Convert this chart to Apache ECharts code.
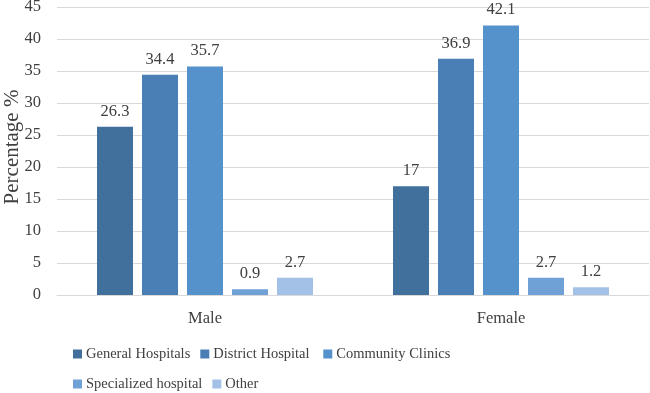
<!DOCTYPE html>
<html>
<head>
<meta charset="utf-8">
<script src="https://cdn.jsdelivr.net/npm/echarts@6/dist/echarts.min.js"></script>
<style>
  html, body { margin: 0; padding: 0; background: #fff; }
  #main { width: 650px; height: 393px; }
</style>
</head>
<body>
<div id="main"></div>
<script>
// categories and series
var categories = ['Male', 'Female'];
var seriesNames = ['General Hospitals', 'District Hospital', 'Community Clinics', 'Specialized hospital', 'Other'];
var generalHospitals = [26.3, 17];
var districtHospital = [34.4, 36.9];
var communityClinics = [35.7, 42.1];
var specializedHospital = [0.9, 2.7];
var other = [2.7, 1.2];
var yAxisTitle = 'Percentage %';
var colors = ['#41709c', '#4a7fb5', '#5592cc', '#6fa0d6', '#a3c0e6'];

var seriesData = [generalHospitals, districtHospital, communityClinics, specializedHospital, other];

var font = 'Liberation Serif, Times New Roman, serif';
var myChart = echarts.init(document.getElementById('main'));

var option = {
    animation: false,
    color: colors,
    grid: {
        left: 57,
        right: 1,
        top: 7,
        bottom: 98,
        containLabel: false,
        outerBoundsMode: 'none'
    },
    // y axis title, placed by hand (axis name gets pushed off the left edge)
    graphic: [{
        type: 'text',
        x: 12,
        y: 147,
        rotation: Math.PI / 2,
        style: {
            text: yAxisTitle,
            align: 'center',
            verticalAlign: 'middle',
            fontFamily: font,
            fontSize: 21,
            fill: '#404040'
        }
    }],
    legend: {
        left: 68,
        top: 339,
        width: 400,
        itemWidth: 9,
        itemHeight: 9,
        itemGap: 10,
        icon: 'rect',
        textStyle: {
            fontFamily: font,
            fontSize: 14.5,
            color: '#404040',
            width: 100,
            lineHeight: 20,
            padding: [0, 0, 0, -1]
        },
        data: seriesNames
    },
    xAxis: {
        type: 'category',
        data: categories,
        axisLine: { lineStyle: { color: '#d9d9d9' } },
        axisTick: { show: false },
        axisLabel: {
            margin: 15,
            fontFamily: font,
            fontSize: 16.5,
            color: '#404040'
        }
    },
    yAxis: {
        type: 'value',
        min: 0,
        max: 45,
        interval: 5,
        axisLine: { show: false },
        axisTick: { show: false },
        splitLine: { lineStyle: { color: '#d9d9d9' } },
        axisLabel: {
            margin: 16,
            fontFamily: font,
            fontSize: 16.5,
            color: '#404040'
        }
    },
    series: seriesNames.map(function(name, i) {
        return {
            name: name,
            type: 'bar',
            data: seriesData[i],
            barWidth: 36,
            barGap: '25%',
            label: {
                show: true,
                position: 'top',
                distance: 7,
                fontFamily: font,
                fontSize: 16.5,
                color: '#404040'
            }
        };
    })
};

myChart.setOption(option);
</script>
</body>
</html>
